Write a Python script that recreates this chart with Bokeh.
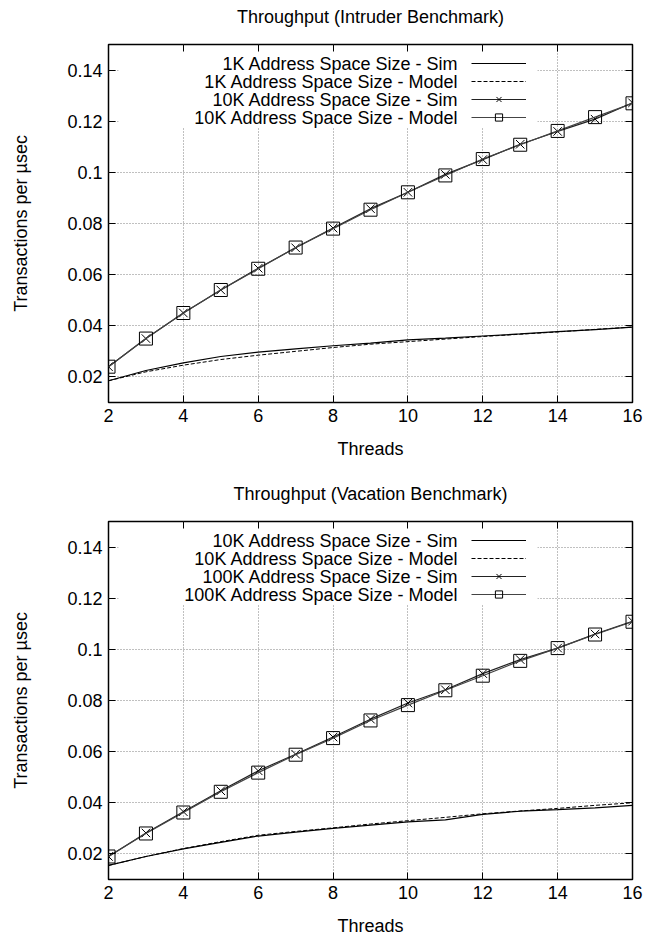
from bokeh.plotting import figure
from bokeh.models import (FixedTicker, LinearAxis, Range1d, Legend, LegendItem,
                          Label, BoxAnnotation)
from bokeh.layouts import column
from bokeh.embed import file_html
from bokeh.resources import INLINE

# ---------------- data ----------------
threads = [2, 3, 4, 5, 6, 7, 8, 9, 10, 11, 12, 13, 14, 15, 16]

intruder_title = "Throughput (Intruder Benchmark)"
intruder_names = ["1K Address Space Size - Sim", "1K Address Space Size - Model",
                  "10K Address Space Size - Sim", "10K Address Space Size - Model"]
intruder_1k_sim = [0.0185, 0.0225, 0.0255, 0.0280, 0.0297, 0.0310, 0.0322, 0.0332,
                   0.0345, 0.0352, 0.0360, 0.0368, 0.0377, 0.0385, 0.0395]
intruder_1k_model = [0.0185, 0.0220, 0.0246, 0.0268, 0.0285, 0.0300, 0.0315, 0.0328,
                     0.0338, 0.0348, 0.0358, 0.0367, 0.0376, 0.0386, 0.0395]
intruder_10k_sim = [0.0240, 0.0350, 0.0450, 0.0540, 0.0625, 0.0705, 0.0782, 0.0858,
                    0.0922, 0.0992, 0.1050, 0.1110, 0.1160, 0.1208, 0.1272]
intruder_10k_model = [0.0240, 0.0350, 0.0450, 0.0540, 0.0623, 0.0706, 0.0780, 0.0854,
                      0.0922, 0.0988, 0.1052, 0.1108, 0.1162, 0.1216, 0.1270]

vacation_title = "Throughput (Vacation Benchmark)"
vacation_names = ["10K Address Space Size - Sim", "10K Address Space Size - Model",
                  "100K Address Space Size - Sim", "100K Address Space Size - Model"]
vacation_10k_sim = [0.0155, 0.0190, 0.0220, 0.0245, 0.0270, 0.0285, 0.0300, 0.0313,
                    0.0325, 0.0333, 0.0355, 0.0367, 0.0373, 0.0380, 0.0390]
vacation_10k_model = [0.0155, 0.0190, 0.0221, 0.0248, 0.0273, 0.0288, 0.0302, 0.0317,
                      0.0330, 0.0343, 0.0357, 0.0368, 0.0378, 0.0390, 0.0400]
vacation_100k_sim = [0.0190, 0.0282, 0.0365, 0.0447, 0.0525, 0.0590, 0.0657, 0.0727,
                     0.0790, 0.0842, 0.0905, 0.0960, 0.1005, 0.1060, 0.1110]
vacation_100k_model = [0.0190, 0.0280, 0.0362, 0.0443, 0.0518, 0.0588, 0.0653, 0.0722,
                       0.0782, 0.0840, 0.0897, 0.0955, 0.1005, 0.1058, 0.1108]

x_ticks = [2, 4, 6, 8, 10, 12, 14, 16]
y_ticks = [0.02, 0.04, 0.06, 0.08, 0.10, 0.12, 0.14]
y_tick_labels = ["0.02", "0.04", "0.06", "0.08", "0.1", "0.12", "0.14"]
x_label = "Threads"
y_label = "Transactions per µsec"

FONT = "Liberation Sans"
FS = "18px"


def style_axis(ax, ticks, show_labels=True):
    ax.ticker = FixedTicker(ticks=ticks)
    ax.minor_tick_line_color = None
    ax.major_tick_in = 7
    ax.major_tick_out = 0
    ax.major_tick_line_color = "black"
    ax.major_tick_line_width = 1
    ax.axis_line_color = None
    ax.major_label_text_font = FONT
    ax.axis_label_text_font = FONT
    ax.axis_label_text_font_size = FS
    ax.axis_label_text_font_style = "normal"
    ax.axis_label_text_color = "black"
    if show_labels:
        ax.major_label_text_font_size = FS
        ax.major_label_text_color = "black"
    else:
        ax.major_label_text_font_size = "0px"
        ax.major_label_text_color = None
        ax.major_label_standoff = 0


def make_plot(title, names, s1, s2, s3, s4, height, top_border, bottom_border):
    p = figure(width=648, height=height, x_range=Range1d(2, 16), y_range=Range1d(0.01, 0.15),
               output_backend="svg", toolbar_location=None,
               min_border_left=108, min_border_right=16, min_border_top=top_border,
               min_border_bottom=bottom_border)

    p.outline_line_color = "black"
    p.outline_line_width = 1.5
    p.outline_line_alpha = 1
    p.background_fill_color = "white"
    p.border_fill_color = "white"

    style_axis(p.xaxis[0], x_ticks)
    style_axis(p.yaxis[0], y_ticks)
    p.yaxis[0].major_label_overrides = {t: l for t, l in zip(y_ticks, y_tick_labels)}
    p.xaxis[0].major_label_standoff = 6
    p.yaxis[0].major_label_standoff = 6
    p.xaxis[0].axis_label = x_label
    p.yaxis[0].axis_label = y_label
    p.xaxis[0].axis_label_standoff = 14
    p.yaxis[0].axis_label_standoff = 33

    # top axis: mirrored ticks, carries the chart title
    top_ax = LinearAxis()
    style_axis(top_ax, x_ticks, show_labels=False)
    top_ax.axis_label = title
    top_ax.axis_label_standoff = 18
    p.add_layout(top_ax, "above")
    right_ax = LinearAxis()
    style_axis(right_ax, y_ticks, show_labels=False)
    p.add_layout(right_ax, "right")

    p.xgrid.ticker = FixedTicker(ticks=x_ticks)
    p.ygrid.ticker = FixedTicker(ticks=y_ticks)
    for g in (p.xgrid[0], p.ygrid[0]):
        g.grid_line_color = "#808080"
        g.grid_line_dash = "1 2"
        g.grid_line_width = 1

    # opaque key box
    box = BoxAnnotation(left=10, right=429, top=352, bottom=275,
                        left_units="screen", right_units="screen",
                        top_units="screen", bottom_units="screen",
                        fill_color="white", fill_alpha=1, line_color=None,
                        level="underlay")
    p.add_layout(box)

    r1 = p.line(threads, s1, line_color="black", line_width=1.2)
    r2 = p.line(threads, s2, line_color="black", line_width=1, line_dash="4 2")
    r3l = p.line(threads, s3, line_color="#222222", line_width=1.2)
    r3m = p.scatter(threads, s3, marker="x", size=12, line_color="black", line_width=1)
    r4l = p.line(threads, s4, line_color="#444444", line_width=1.2)
    r4m = p.scatter(threads, s4, marker="square", size=13, fill_color=None,
                    line_color="black", line_width=1)

    legend = Legend(items=[LegendItem(label=" ", renderers=[r1]),
                           LegendItem(label=" ", renderers=[r2]),
                           LegendItem(label=" ", renderers=[r3l, r3m]),
                           LegendItem(label=" ", renderers=[r4l, r4m])],
                    location=(363, 276), glyph_width=55, glyph_height=18,
                    label_height=18, label_width=0, label_standoff=0, spacing=0,
                    padding=0, margin=0, border_line_color=None,
                    background_fill_alpha=0, label_text_font_size="1px",
                    label_text_color=None)
    p.add_layout(legend)

    for i, name in enumerate(names):
        p.add_layout(Label(x=350, y=339 - 18 * i, x_units="screen", y_units="screen",
                           text=name, text_align="right", text_baseline="middle",
                           text_font=FONT, text_font_size=FS, text_color="black"))
    return p


p1 = make_plot(intruder_title, intruder_names, intruder_1k_sim, intruder_1k_model,
               intruder_10k_sim, intruder_10k_model, 475, 44, 73)
p2 = make_plot(vacation_title, vacation_names, vacation_10k_sim, vacation_10k_model,
               vacation_100k_sim, vacation_100k_model, 465, 46, 61)

layout = column(p1, p2, spacing=0)
open("out.html", "w").write(file_html(layout, INLINE))
